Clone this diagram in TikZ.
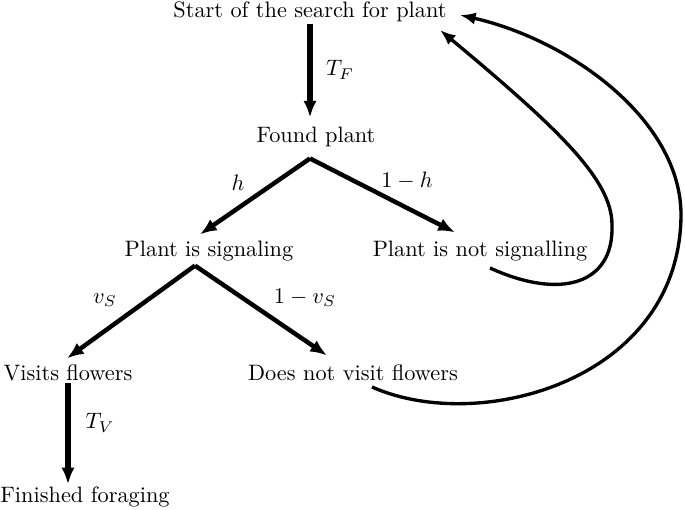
\documentclass[tikz,border=0pt]{standalone}
\usepackage{amsmath,amssymb}
\usepackage{tikz}
\usetikzlibrary{arrows.meta}
\usetikzlibrary{calc}
\tikzset{state/.style={inner sep=0.5pt}}
\tikzset{flow/.style={line width=2pt,-{Latex[length=7.5pt,width=6pt]}}}
\tikzset{loopback/.style={line width=1.5pt,-{Latex[length=7pt,width=5.5pt]}}}

\begin{document}
\begin{tikzpicture}[x=0.448pt,y=-0.448pt]
                \useasboundingbox (0,0) rectangle (685,509);

                % States
                \node[state] (start) at (310,12) {Start of the search for plant};
                \node[state] (found) at (316,137) {Found plant};
                \node[state] (signal) at (209,251) {Plant is signaling};
                \node[state] (notsig) at (480,251) {Plant is not signalling};
                \node[state] (visits) at (68,373) {Visits flowers};
                \node[state] (novisit) at (353,373) {Does not visit flowers};
                \node[state] (finished) at (85,497) {Finished foraging};

                % Search
                \draw[flow,line width=2.4pt] (start.south) -- ($(start.south |- found.north)+(0,-8)$);

                % Plant found
                \draw[flow] ($(found.south)+(-6,10)$) -- ($(signal.north)+(-9,-5)$);
                \draw[flow] ($(found.south)+(-6,10)$) -- ($(notsig.north)+(-25,-7)$);

                % Signaling plant
                \draw[flow] ($(signal.south)+(-14,3)$) -- ($(visits.north)+(-1,-5)$);
                \draw[flow] ($(signal.south)+(-14,3)$) -- ($(novisit.north)+(-26,-8)$);

                % Visit
                \draw[flow,line width=2.4pt] (visits.south) -- ($(visits.south |- finished.north)+(0,-1)$);

                % Back to the search
                \draw[loopback] ($(notsig)+(10,17)$) .. controls (560,300) and (614,285) .. (612,225)
                    .. controls (612,180) and (560,130) .. ($(start)+(130,18)$);
                \draw[loopback] ($(novisit)+(19,14)$) .. controls (480,435) and (680,380) .. (681,215)
                    .. controls (681,120) and (570,40) .. ($(start)+(150,3)$);

                % Labels
                \node (tf) at (340,70) {$T_F$};
                \node (h) at (238,183) {$h$};
                \node (noth) at (407,181) {$1-h$};
                \node (vs) at (105,300) {$v_S$};
                \node (novs) at (305,298) {$1-v_S$};
                \node (tv) at (100,423) {$T_V$};
            \end{tikzpicture}
\end{document}
